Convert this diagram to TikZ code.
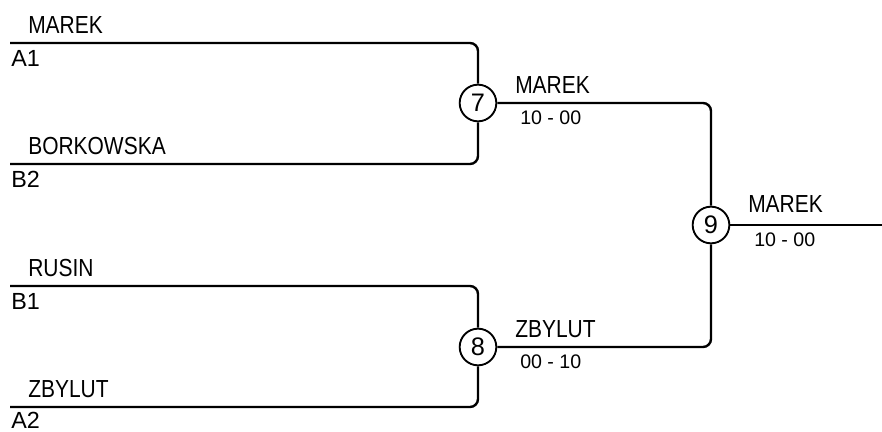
\documentclass[tikz,border=0pt]{standalone}
\usepackage{fontspec}
\setmainfont{Liberation Sans}
\newfontfamily\namefont[FakeStretch=0.85]{Liberation Sans}
\begin{document}
\begin{tikzpicture}[x=0.75pt,y=-0.75pt]
    \tikzstyle{every node}+=[inner sep=0pt]
    \tikzstyle{line}=[black,line width=1.8pt,rounded corners=6pt]
    \tikzstyle{game}=[draw,circle,line width=1.4pt,minimum size=27.5pt,fill=white,font=\fontsize{19}{19}\selectfont]
    \tikzstyle{player}=[anchor=base west,font=\namefont\fontsize{18.5}{18.5}\selectfont]
    \tikzstyle{seed}=[anchor=north west,font=\fontsize{17.5}{17.5}\selectfont]
    \tikzstyle{score}=[anchor=base west,font=\fontsize{14.7}{14.7}\selectfont]
    \useasboundingbox (0,0) rectangle (882,432);
    % games
    \node [game] (g7) at (478,103) {7};
    \node [game] (g8) at (478,347) {8};
    \node [game] (g9) at (711,225) {9};
    % first round lines
    \coordinate (lA1) at (10,43);
    \coordinate (lB2) at (10,164);
    \coordinate (lB1) at (10,286);
    \coordinate (lA2) at (10,407);
    \coordinate (lend) at (882,225);
    \draw [line] (lA1) -| (g7);
    \draw [line] (lB2) -| (g7);
    \draw [line] (lB1) -| (g8);
    \draw [line] (lA2) -| (g8);
    \draw [line] (g7) -| (g9);
    \draw [line] (g8) -| (g9);
    \draw [line] (g9) -- (lend);
    % players and seeds
    \node [player] (pA1) at (28,33) {MAREK};
    \node [seed] (sA1) at (11,50) {A1};
    \node [player] (pB2) at (28,154) {BORKOWSKA};
    \node [seed] (sB2) at (11,171) {B2};
    \node [player] (pB1) at (28,276) {RUSIN};
    \node [seed] (sB1) at (11,293) {B1};
    \node [player] (pA2) at (28,397) {ZBYLUT};
    \node [seed] (sA2) at (11,412) {A2};
    % winners
    \node [player] (w7) at (515,93) {MAREK};
    \node [score] (r7) at (520,124) {10 - 00};
    \node [player] (w8) at (515,337) {ZBYLUT};
    \node [score] (r8) at (520,368) {00 - 10};
    \node [player] (w9) at (748,212) {MAREK};
    \node [score] (r9) at (754,246) {10 - 00};
\end{tikzpicture}
\end{document}
